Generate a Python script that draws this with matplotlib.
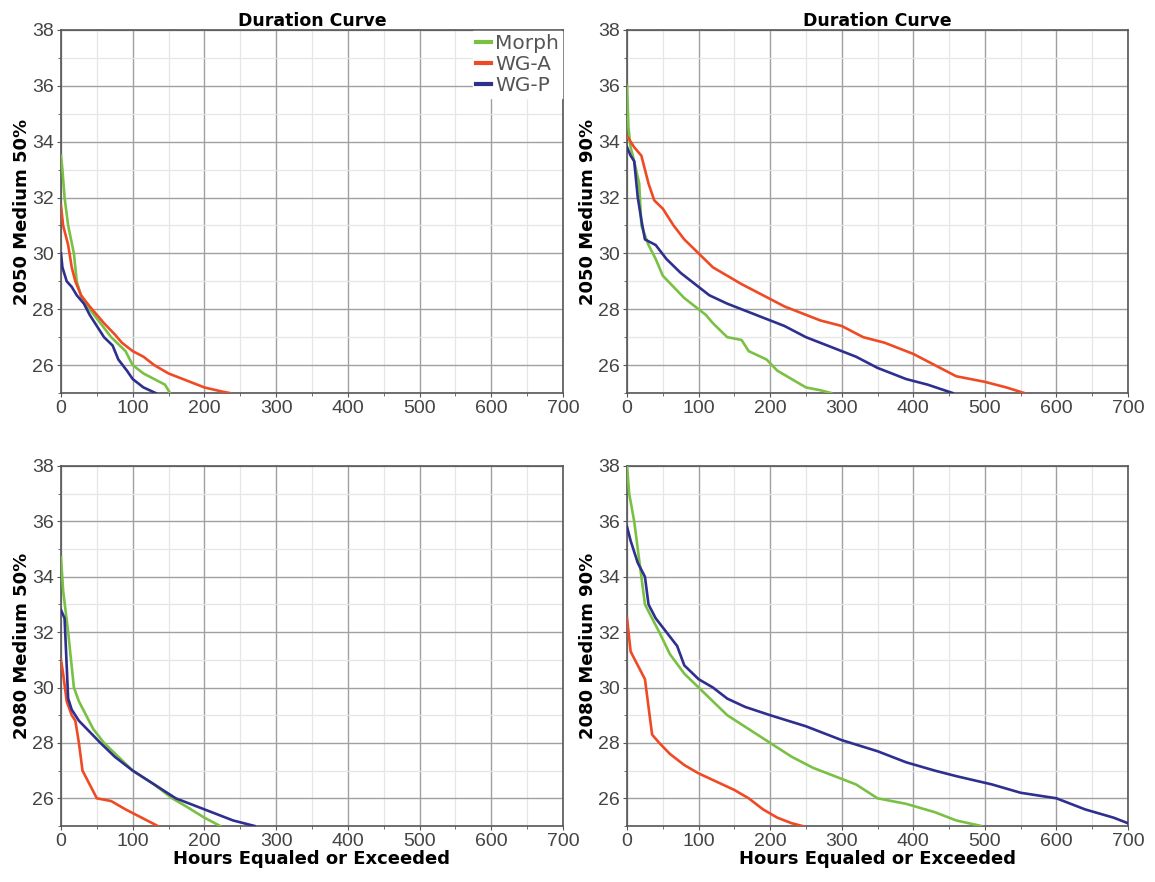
import matplotlib
matplotlib.use("Agg")
import matplotlib.pyplot as plt
from matplotlib.ticker import MultipleLocator

# ---- data ----
# 2050 Medium 50%
tl_morph_x = [0, 2, 5, 10, 18, 22, 30, 40, 55, 70, 90, 100, 115, 130, 145, 152]
tl_morph_y = [33.5, 33.0, 32.0, 31.0, 30.0, 29.0, 28.3, 28.0, 27.5, 27.0, 26.5, 26.0, 25.7, 25.5, 25.3, 25.0]
tl_wga_x = [0, 3, 10, 15, 20, 28, 40, 50, 60, 75, 85, 100, 115, 130, 150, 170, 200, 225, 235]
tl_wga_y = [31.7, 31.0, 30.3, 29.5, 29.0, 28.5, 28.1, 27.8, 27.5, 27.1, 26.8, 26.5, 26.3, 26.0, 25.7, 25.5, 25.2, 25.05, 25.0]
tl_wgp_x = [0, 2, 8, 15, 22, 32, 40, 50, 60, 72, 80, 92, 100, 115, 132]
tl_wgp_y = [30.0, 29.5, 29.0, 28.8, 28.5, 28.2, 27.8, 27.4, 27.0, 26.7, 26.2, 25.8, 25.5, 25.2, 25.0]

# 2050 Medium 90%
tr_morph_x = [0, 2, 5, 10, 17, 20, 30, 40, 50, 65, 80, 100, 110, 120, 140, 160, 170, 195, 210, 230, 250, 270, 285]
tr_morph_y = [36.0, 34.5, 33.8, 33.3, 32.5, 31.0, 30.3, 29.8, 29.2, 28.8, 28.4, 28.0, 27.8, 27.5, 27.0, 26.9, 26.5, 26.2, 25.8, 25.5, 25.2, 25.1, 25.0]
tr_wga_x = [0, 10, 20, 30, 38, 50, 65, 80, 100, 120, 140, 160, 190, 220, 240, 270, 300, 330, 360, 400, 430, 460, 500, 530, 555]
tr_wga_y = [34.2, 33.8, 33.5, 32.5, 31.9, 31.6, 31.0, 30.5, 30.0, 29.5, 29.2, 28.9, 28.5, 28.1, 27.9, 27.6, 27.4, 27.0, 26.8, 26.4, 26.0, 25.6, 25.4, 25.2, 25.0]
tr_wgp_x = [0, 5, 10, 15, 20, 25, 40, 55, 75, 95, 115, 140, 160, 190, 220, 250, 290, 320, 350, 390, 420, 455]
tr_wgp_y = [33.8, 33.5, 33.3, 32.0, 31.2, 30.5, 30.3, 29.8, 29.3, 28.9, 28.5, 28.2, 28.0, 27.7, 27.4, 27.0, 26.6, 26.3, 25.9, 25.5, 25.3, 25.0]

# 2080 Medium 50%
bl_morph_x = [0, 3, 10, 14, 18, 25, 35, 45, 60, 80, 100, 130, 155, 175, 200, 222]
bl_morph_y = [34.7, 33.5, 32.0, 31.0, 30.0, 29.5, 29.0, 28.5, 28.0, 27.5, 27.0, 26.5, 26.0, 25.7, 25.3, 25.0]
bl_wga_x = [0, 3, 8, 15, 20, 25, 30, 40, 50, 70, 90, 105, 135]
bl_wga_y = [31.0, 30.5, 29.5, 29.0, 28.8, 28.0, 27.0, 26.5, 26.0, 25.9, 25.6, 25.4, 25.0]
bl_wgp_x = [0, 5, 10, 15, 25, 40, 55, 75, 100, 130, 160, 190, 210, 240, 270]
bl_wgp_y = [32.8, 32.5, 29.6, 29.2, 28.8, 28.4, 28.0, 27.5, 27.0, 26.5, 26.0, 25.7, 25.5, 25.2, 25.0]

# 2080 Medium 90%
br_morph_x = [0, 3, 10, 15, 20, 25, 35, 45, 60, 80, 100, 120, 140, 170, 200, 230, 260, 290, 320, 350, 390, 430, 460, 495]
br_morph_y = [38.0, 37.0, 36.0, 35.0, 34.0, 33.0, 32.5, 32.0, 31.2, 30.5, 30.0, 29.5, 29.0, 28.5, 28.0, 27.5, 27.1, 26.8, 26.5, 26.0, 25.8, 25.5, 25.2, 25.0]
br_wga_x = [0, 5, 15, 25, 30, 35, 45, 60, 80, 100, 125, 150, 170, 190, 210, 230, 245]
br_wga_y = [32.5, 31.3, 30.8, 30.3, 29.3, 28.3, 28.0, 27.6, 27.2, 26.9, 26.6, 26.3, 26.0, 25.6, 25.3, 25.1, 25.0]
br_wgp_x = [0, 5, 15, 25, 30, 40, 55, 70, 80, 100, 120, 140, 165, 200, 250, 300, 350, 390, 430, 460, 510, 550, 600, 640, 680, 700]
br_wgp_y = [35.8, 35.3, 34.5, 34.0, 33.0, 32.5, 32.0, 31.5, 30.8, 30.3, 30.0, 29.6, 29.3, 29.0, 28.6, 28.1, 27.7, 27.3, 27.0, 26.8, 26.5, 26.2, 26.0, 25.6, 25.3, 25.1]

series_names = ["Morph", "WG-A", "WG-P"]
colors = ["#79c143", "#f04a24", "#2e2f8f"]
ylabels = ["2050 Medium 50%", "2050 Medium 90%", "2080 Medium 50%", "2080 Medium 90%"]
x_ticks = [0, 100, 200, 300, 400, 500, 600, 700]
x_ticklabels = ["0", "100", "200", "300", "400", "500", "600", "700"]
y_ticks = [26, 28, 30, 32, 34, 36, 38]

panels = [
    [(tl_morph_x, tl_morph_y), (tl_wga_x, tl_wga_y), (tl_wgp_x, tl_wgp_y)],
    [(tr_morph_x, tr_morph_y), (tr_wga_x, tr_wga_y), (tr_wgp_x, tr_wgp_y)],
    [(bl_morph_x, bl_morph_y), (bl_wga_x, bl_wga_y), (bl_wgp_x, bl_wgp_y)],
    [(br_morph_x, br_morph_y), (br_wga_x, br_wga_y), (br_wgp_x, br_wgp_y)],
]

plt.rcParams['font.family'] = ['DejaVu Sans']
fig = plt.figure(figsize=(11.55, 8.82), dpi=100)

positions = [
    [0.0528, 0.5544, 0.4346, 0.4116],
    [0.5429, 0.5544, 0.4337, 0.4116],
    [0.0528, 0.0635, 0.4346, 0.4082],
    [0.5429, 0.0635, 0.4337, 0.4082],
]

for i, (pos, data) in enumerate(zip(positions, panels)):
    ax = fig.add_axes(pos)
    for (xs, ys), name, c in zip(data, series_names, colors):
        ax.plot(xs, ys, color=c, lw=1.9, label=name, zorder=3)
    ax.set_xlim(0, 700)
    ax.set_ylim(25, 38)
    ax.set_xticks(x_ticks)
    ax.set_xticklabels(x_ticklabels)
    ax.set_yticks(y_ticks)
    ax.xaxis.set_minor_locator(MultipleLocator(50))
    ax.yaxis.set_minor_locator(MultipleLocator(1))
    ax.grid(True, which='major', color='#a0a0a0', lw=1.0, zorder=1)
    ax.grid(True, which='minor', color='#e6e6e6', lw=0.9, zorder=0)
    ax.set_axisbelow(True)
    for s in ax.spines.values():
        s.set_color('#555555')
        s.set_linewidth(1.2)
    ax.tick_params(axis='both', which='major', labelsize=14, labelcolor='#444444',
                   color='#555555', length=3, pad=2)
    ax.tick_params(axis='both', which='minor', length=2, color='#555555')
    for lab in ax.get_xticklabels() + ax.get_yticklabels():
        lab.set_fontfamily(['Liberation Sans', 'DejaVu Sans'])
    ax.set_ylabel(ylabels[i], fontsize=13, fontweight='bold', labelpad=1)
    if i < 2:
        ax.set_title("Duration Curve", fontsize=12.5, fontweight='bold', pad=3)
    else:
        ax.set_xlabel("Hours Equaled or Exceeded", fontsize=13, fontweight='bold', labelpad=0)
    if i == 0:
        leg = ax.legend(loc='upper right', fontsize=14.5, frameon=True, fancybox=False,
                        handlelength=0.75, handletextpad=0.2, borderpad=0.15,
                        labelspacing=0.1, borderaxespad=0.05, edgecolor='white',
                        framealpha=1.0)
        for t in leg.get_texts():
            t.set_color('#555555')
        for h in leg.get_lines():
            h.set_linewidth(3)

fig.savefig("out.png", dpi=100)
